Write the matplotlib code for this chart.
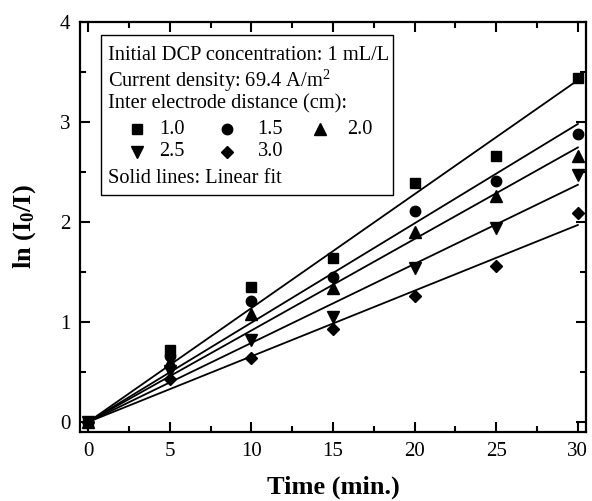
import numpy as np
import matplotlib
matplotlib.use("Agg")
import matplotlib.pyplot as plt
from matplotlib.patches import Rectangle
from matplotlib.ticker import MultipleLocator

plt.rcParams['font.family'] = 'Liberation Serif'
plt.rcParams['mathtext.fontset'] = 'custom'
plt.rcParams['mathtext.rm'] = 'Liberation Serif'
plt.rcParams['mathtext.it'] = 'Liberation Serif:italic'
plt.rcParams['mathtext.bf'] = 'Liberation Serif:bold'

# sampling times (min) and ln(I0/I) for each inter electrode distance
time_min = [0, 5, 10, 15, 20, 25, 30]
distances = ['1.0', '1.5', '2.0', '2.5', '3.0']
ln_d10 = [0, 0.72, 1.35, 1.64, 2.39, 2.66, 3.44]
ln_d15 = [0, 0.66, 1.21, 1.45, 2.11, 2.41, 2.88]
ln_d20 = [0, 0.60, 1.08, 1.34, 1.90, 2.26, 2.66]
ln_d25 = [0, 0.51, 0.82, 1.05, 1.54, 1.94, 2.47]
ln_d30 = [0, 0.43, 0.64, 0.93, 1.26, 1.56, 2.09]
series = [ln_d10, ln_d15, ln_d20, ln_d25, ln_d30]
markers = ['s', 'o', '^', 'v', 'D']
msizes = [7, 7.5, 8, 8, 6.5]

fig = plt.figure(figsize=(5.92, 5.01), dpi=100)
ax = fig.add_axes([80 / 592, 1 - 432 / 501, 506 / 592, 410 / 501])

t = np.array(time_min, dtype=float)
for y, m, ms in zip(series, markers, msizes):
    y = np.array(y)
    ax.plot(t, y, linestyle='none', marker=m, ms=ms, color='black', zorder=3)
    # first order fit through the origin
    k = np.sum(t * y) / np.sum(t * t)
    ax.plot([0, 30], [0, 30 * k], color='black', lw=1.3, zorder=2)

ax.set_xlim(-0.5, 30.5)
ax.set_ylim(-0.1, 4.0)
ax.xaxis.set_major_locator(MultipleLocator(5))
ax.xaxis.set_minor_locator(MultipleLocator(2.5))
ax.yaxis.set_major_locator(MultipleLocator(1))
ax.yaxis.set_minor_locator(MultipleLocator(0.5))
ax.tick_params(which='both', direction='in', top=True, right=True,
               width=1.5, labelsize=15, pad=7)
ax.tick_params(which='major', length=7)
ax.tick_params(which='minor', length=4)
for s in ax.spines.values():
    s.set_linewidth(1.6)

ax.set_xlabel('Time (min.)', fontsize=19, fontweight='bold', labelpad=11)
ax.set_ylabel(r'$\mathbf{ln\ (I_0/I)}$', fontsize=19, labelpad=16)

# key box
ax.add_patch(Rectangle((0.0415, 0.578), 0.577, 0.39, transform=ax.transAxes,
                       facecolor='white', edgecolor='black', lw=1.0, zorder=4))
tx = 0.055
fs = 14.7
ax.text(tx, 0.9195, 'Initial DCP concentration: 1 mL/L', transform=ax.transAxes,
        fontsize=fs, va='center', zorder=5)
ax.text(tx, 0.856, r'Current density: 69.4 A/m$^2$', transform=ax.transAxes,
        fontsize=fs, va='center', zorder=5)
ax.text(tx, 0.80, 'Inter electrode distance (cm):', transform=ax.transAxes,
        fontsize=fs, va='center', zorder=5)
ax.text(tx, 0.6195, 'Solid lines: Linear fit', transform=ax.transAxes,
        fontsize=fs, va='center', zorder=5)

key_mx = [0.1126, 0.2905, 0.474, 0.1126, 0.2905]
key_tx = [0.156, 0.351, 0.527, 0.156, 0.351]
key_y = [0.739, 0.739, 0.739, 0.683, 0.683]
for lab, m, ms, mx, lx, ky in zip(distances, markers, msizes, key_mx, key_tx, key_y):
    ax.plot([mx], [ky], linestyle='none', marker=m, ms=ms, color='black',
            transform=ax.transAxes, zorder=5, clip_on=False)
    ax.text(lx, ky, lab, transform=ax.transAxes, fontsize=fs, va='center', zorder=5)

fig.savefig('out.png', dpi=100)
